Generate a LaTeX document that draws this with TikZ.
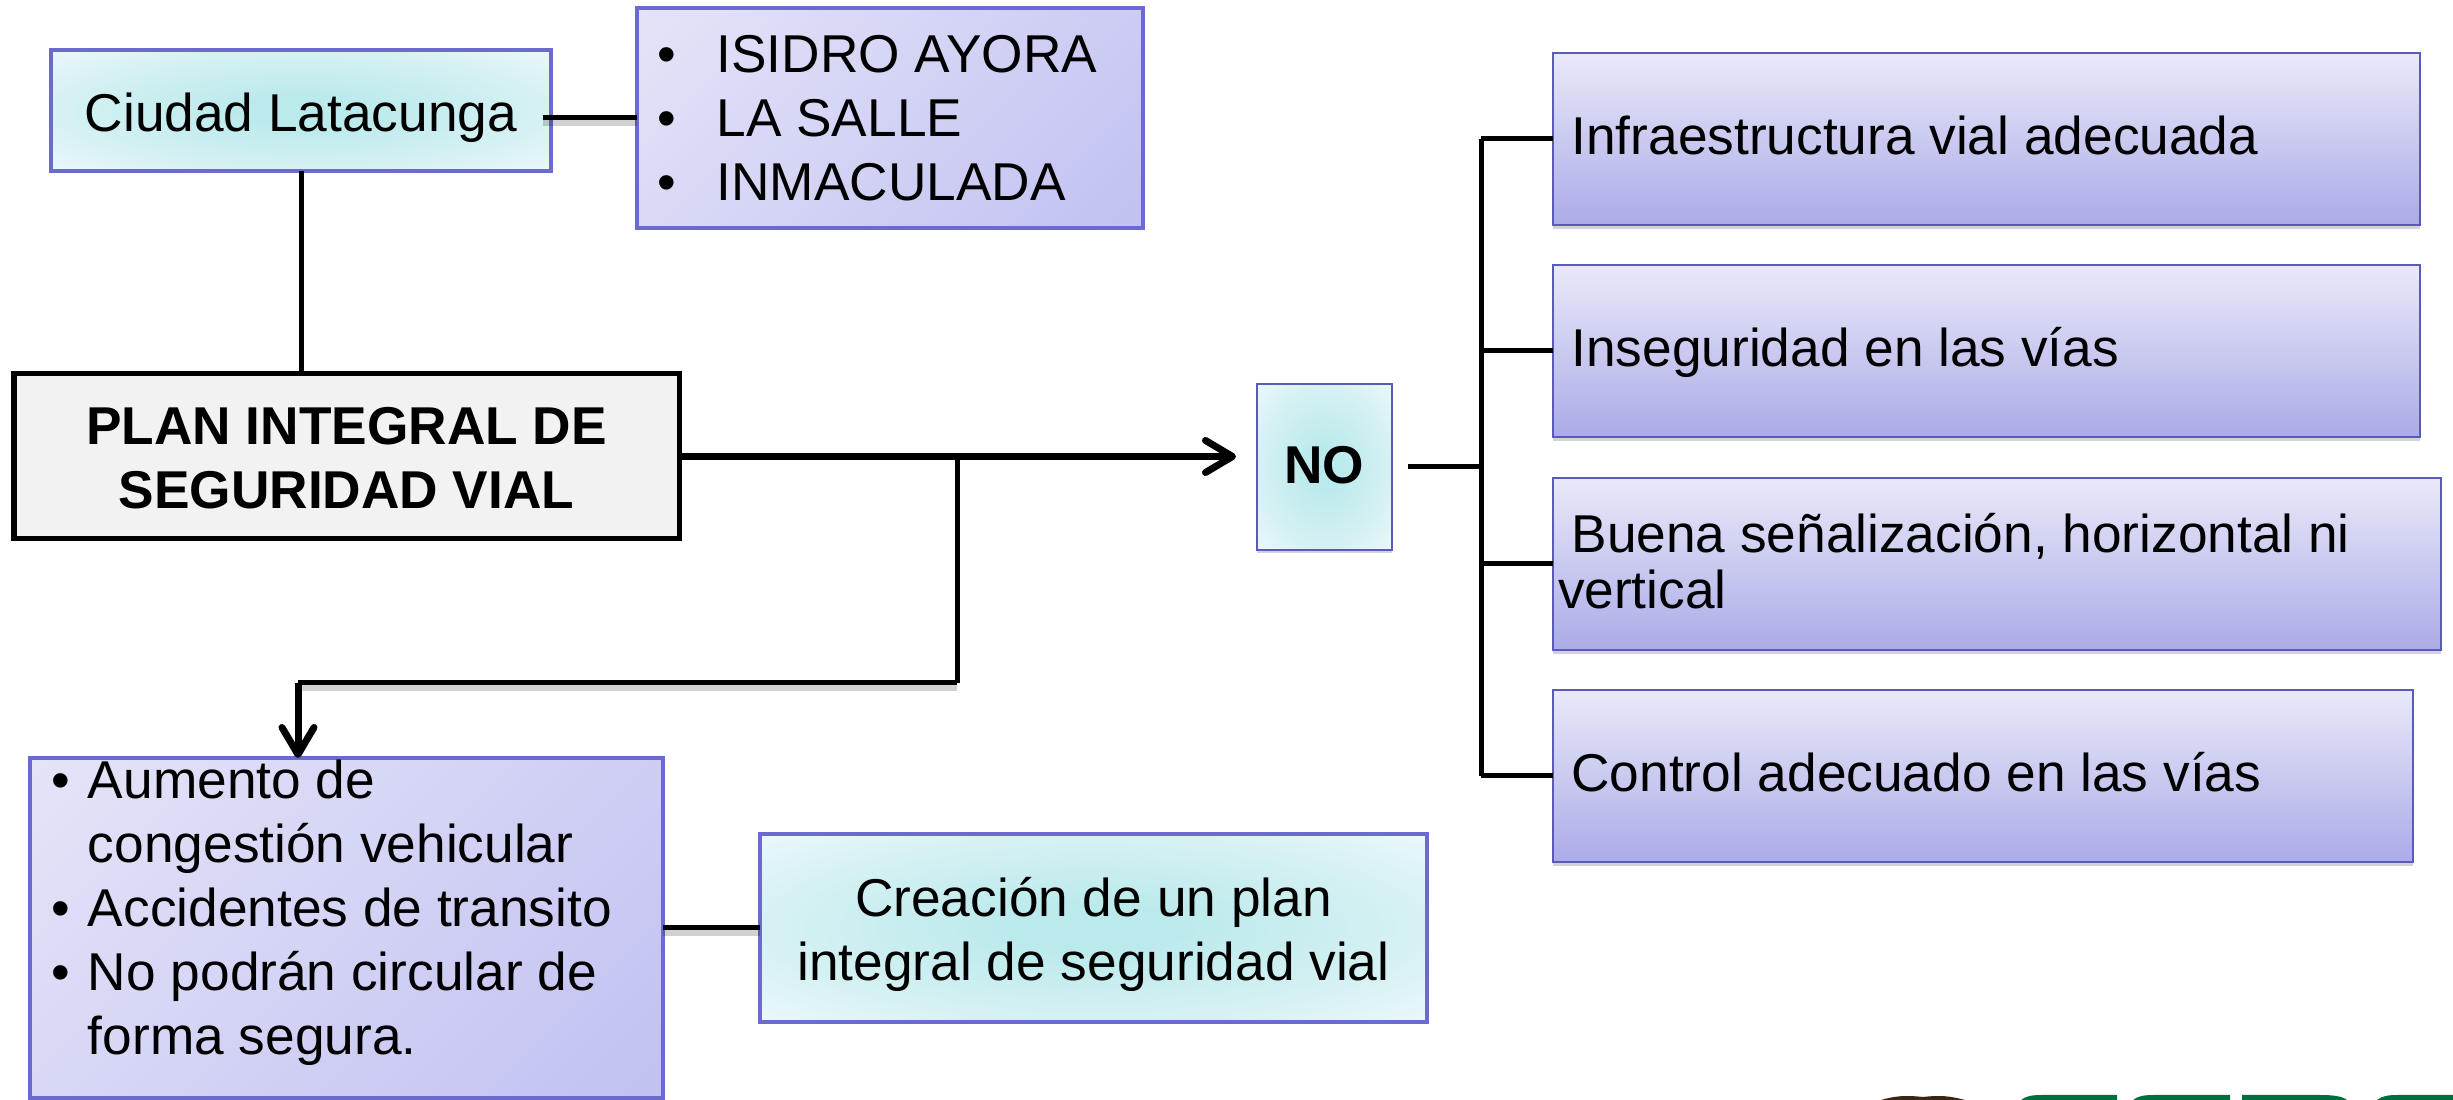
\documentclass[tikz,border=0pt]{standalone}
\usepackage{fontspec}
\setmainfont{Liberation Sans}
\usetikzlibrary{shadows,arrows.meta}

\definecolor{edgeblue}{HTML}{6B6BCF}
\definecolor{thinblue}{HTML}{5A5AB8}
\definecolor{lilaclight}{HTML}{E9E9F9}
\definecolor{lilacdark}{HTML}{BCBCF1}
\definecolor{lilacend}{HTML}{ABABE8}
\definecolor{tealmid}{HTML}{BBEAEC}
\definecolor{tealhalf}{HTML}{D6F1F3}
\definecolor{teallight}{HTML}{EAF8FA}
\definecolor{logogreen}{HTML}{006F3C}
\definecolor{logobrown}{HTML}{3A2613}

\pgfdeclareverticalshading{lilacdiag}{100bp}{color(0bp)=(lilacdark); color(5bp)=(lilacdark); color(95bp)=(lilaclight); color(100bp)=(lilaclight)}
\pgfdeclareradialshading{tealglow}{\pgfpoint{0bp}{0bp}}{color(0bp)=(tealmid); color(6bp)=(tealmid); color(24bp)=(tealhalf); color(35bp)=(teallight); color(50bp)=(teallight)}

\tikzset{
    basebox/.style={anchor=north west, outer sep=0pt, inner sep=0pt, align=center,
        font=\fontsize{15.15}{18.2}\selectfont},
    tealbox/.style={basebox, draw=edgeblue, line width=.04cm, shade, shading=tealglow},
    lilacbox/.style={basebox, align=flush left, draw=edgeblue, line width=.04cm,
        shade, shading=lilacdiag, shading angle=45},
    sidebox/.style={basebox, align=flush left, draw=thinblue, line width=.02cm, top color=lilaclight, bottom color=lilacend,
        inner xsep=.05cm, text width=#1-.1cm, minimum width=#1, minimum height=1.72cm,
        font=\fontsize{15.15}{15.7}\selectfont,
        drop shadow={shadow xshift=0cm, shadow yshift=-.04cm, opacity=.35}},
    oneline/.style={text height=14pt, text depth=4.9pt},
    link/.style={line width=.05cm, black},
    softlink/.style={link, preaction={draw=black, opacity=.18, line width=.07cm, transform canvas={yshift=-.05cm}}},
    barb/.style={-{Straight Barb[round, length=.27cm, width=.32cm]}, line width=.07cm}
}

\begin{document}
\begin{tikzpicture}
        % Define Variables
        \def\rL{15.53}
        \def\bulA{\makebox[.595cm][l]{\textbullet}}
        \def\bulB{\makebox[.33cm][l]{\hspace*{-.03cm}\textbullet}}
        \def\noB{\makebox[.33cm][l]{}}
        \useasboundingbox (0,0) rectangle (24.53,11);

        % Top Left Boxes
        \node[tealbox, minimum width=5cm, minimum height=1.21cm, text height=16.9pt, text depth=5pt] at (.51,10.5) (ciudad) {Ciudad Latacunga};
        \node[lilacbox, minimum width=5.06cm, minimum height=2.2cm, text width=4.66cm, inner xsep=.2cm] at (6.37,10.92) (barrios) {\bulA ISIDRO AYORA \\ \bulA LA SALLE \\ \bulA INMACULADA};
        \node[basebox, draw=black, fill=black!5, line width=.05cm, minimum width=6.65cm, minimum height=1.65cm, text height=29.7pt] at (.14,7.26) (plan) {\textbf{PLAN INTEGRAL DE} \\ \textbf{SEGURIDAD VIAL}};
        \node[tealbox, draw=thinblue, line width=.02cm, minimum width=1.345cm, minimum height=1.66cm, text depth=1pt, drop shadow={shadow xshift=0cm, shadow yshift=-.03cm, opacity=.35}] at (12.57,7.16) (no) {\textbf{NO}};

        % Bottom Left Boxes
        \node[lilacbox, minimum width=6.325cm, minimum height=3.4cm, text width=5.835cm, inner xsep=.245cm] at (.305,3.42) (efectos) {\bulB Aumento de \\ \noB congestión vehicular \\ \bulB Accidentes de transito \\ \bulB No podrán circular de \\ \noB forma segura. \\[-.23cm] \mbox{}};
        \node[tealbox, minimum width=6.67cm, minimum height=1.88cm, text height=32.8pt] at (7.6,2.66) (creacion) {Creación de un plan \\ integral de seguridad vial};

        % Right Column
        \node[sidebox=8.67cm, oneline] at (\rL,10.47) (infra) {\hspace*{.135cm}Infraestructura vial adecuada};
        \node[sidebox=8.67cm, oneline] at (\rL,8.35) (inseg) {\hspace*{.135cm}Inseguridad en las vías};
        \node[sidebox=8.875cm] at (\rL,6.22) (senal) {\hspace*{.135cm}Buena señalización, horizontal ni \\ vertical \\[-.49cm] \mbox{}};
        \node[sidebox=8.595cm, oneline] at (\rL,4.1) (control) {\hspace*{.135cm}Control adecuado en las vías};

        % Connectors
        \coordinate (trunk) at (14.81,4.66);
        \coordinate (tip) at (12.36,6.435);
        \coordinate (split) at (9.57,6.435);
        \coordinate (elbow) at (2.98,4.17);
        \draw[softlink] ([xshift=-.08cm]ciudad.east |- barrios.west) -- (barrios.west);
        \draw[link] (ciudad.south) -- (ciudad.south |- plan.north);
        \draw[barb] (plan.east) -- (tip);
        \draw[link] (split) -- (split |- elbow);
        \draw[softlink] (split |- elbow) -- (elbow);
        \draw[barb] (elbow) -- (elbow |- efectos.north);
        \draw[softlink] (efectos.east |- creacion.west) -- (creacion.west);
        \draw[link] ([xshift=.16cm]no.east) -- (no.east -| trunk);
        \draw[link] (infra.west -| trunk) -- (control.west -| trunk);
        \foreach \n in {infra,inseg,senal,control}
            \draw[link] (\n.west -| trunk) -- (\n.west);

        % Logo Edge
        \fill[logobrown] (18.81,0) .. controls (18.95,.04) and (19.05,.05) .. (19.23,.03) .. controls (19.4,.05) and (19.5,.04) .. (19.65,0) -- cycle;
        \fill[logogreen] (20.21,0) .. controls (20.26,.04) and (20.32,.05) .. (20.42,.05) -- (21.17,.05) -- (21.17,0) -- cycle;
        \fill[logogreen] (21.33,0) .. controls (21.38,.04) and (21.44,.05) .. (21.54,.05) -- (22.3,.05) -- (22.3,0) -- cycle;
        \fill[logogreen] (22.42,0) -- (22.42,.05) -- (23.2,.05) .. controls (23.32,.05) and (23.42,.04) .. (23.47,0) -- cycle;
        \fill[logogreen] (23.77,0) .. controls (23.82,.04) and (23.88,.05) .. (23.98,.05) -- (24.53,.05) -- (24.53,0) -- cycle;

    \end{tikzpicture}
\end{document}
